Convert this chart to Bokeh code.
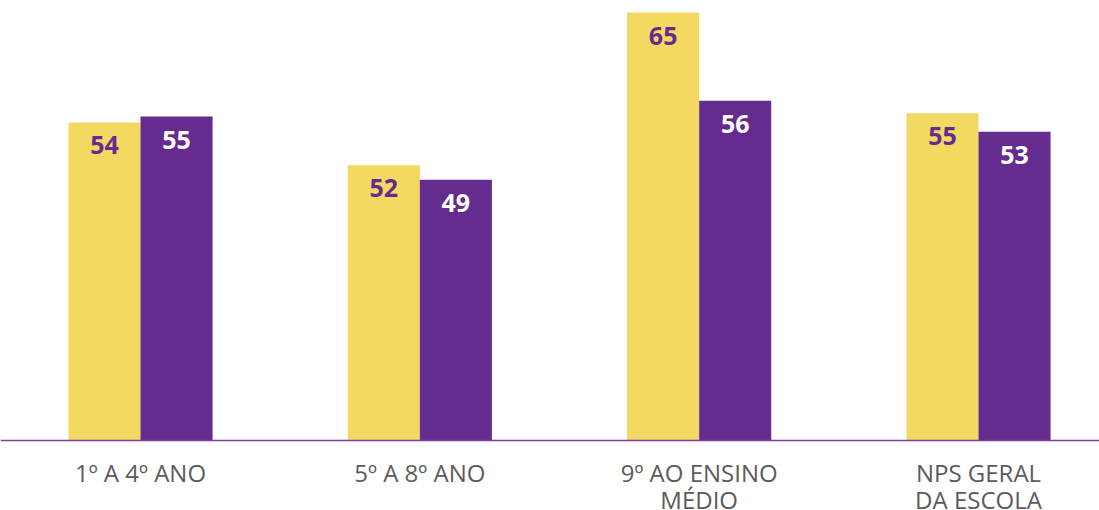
from bokeh.plotting import figure
from bokeh.models import ColumnDataSource, Span
from bokeh.core.properties import value
from bokeh.embed import file_html
from bokeh.resources import INLINE

# ---- data ----
categories = ["1º A 4º ANO", "5º A 8º ANO", "9º AO ENSINO\nMÉDIO", "NPS GERAL\nDA ESCOLA"]
yellow_labels = [54, 52, 65, 55]
purple_labels = [55, 49, 56, 53]
# bar lengths as drawn in the picture (same scale as labels, 65 = tallest bar)
yellow_bars = [48.3, 41.8, 65.0, 49.7]
purple_bars = [49.2, 39.6, 51.6, 46.9]

YELLOW = "#F3D862"
PURPLE = "#652C8F"
GRAY = "#5B5B5B"

n = len(categories)
xs = list(range(n))
bw = 0.258
off = bw / 2

p = figure(width=1099, height=510, output_backend="svg", toolbar_location=None,
           x_range=(-0.5012, 3.4332), y_range=(-10.63, 66.82),
           min_border=0, min_border_left=0, min_border_right=0,
           min_border_top=0, min_border_bottom=0)
p.axis.visible = False
p.grid.visible = False
p.outline_line_color = None
p.background_fill_color = "white"
p.border_fill_color = "white"

ysrc = ColumnDataSource(dict(x=[x - off for x in xs], top=yellow_bars,
                             lab=[str(v) for v in yellow_labels],
                             ly=[t - 3.5 for t in yellow_bars]))
psrc = ColumnDataSource(dict(x=[x + off for x in xs], top=purple_bars,
                             lab=[str(v) for v in purple_labels],
                             ly=[t - 3.5 for t in purple_bars]))

p.vbar(x="x", top="top", bottom=0, width=bw, source=ysrc, fill_color=YELLOW, line_color=None)
p.vbar(x="x", top="top", bottom=0, width=bw, source=psrc, fill_color=PURPLE, line_color=None)

p.add_layout(Span(location=0, dimension="width", line_color="#7A3FA3", line_width=1.5))

p.text(x="x", y="ly", text="lab", source=ysrc, text_align="center", text_baseline="middle",
       text_font=value("Open Sans"), text_font_style="bold", text_font_size="25px",
       text_color=PURPLE)
p.text(x="x", y="ly", text="lab", source=psrc, text_align="center", text_baseline="middle",
       text_font=value("Open Sans"), text_font_style="bold", text_font_size="25px",
       text_color="white")

# category labels, one glyph per line
lx, ly, lt = [], [], []
for i, c in enumerate(categories):
    for k, line in enumerate(c.split("\n")):
        lx.append(i)
        ly.append(-4.86 - 4.1 * k)
        lt.append(line)
csrc = ColumnDataSource(dict(x=lx, y=ly, t=lt))
p.text(x="x", y="y", text="t", source=csrc, text_align="center", text_baseline="alphabetic",
       text_font=value("Open Sans"), text_font_size="24px", text_color=GRAY)

open("out.html", "w").write(file_html(p, INLINE))
